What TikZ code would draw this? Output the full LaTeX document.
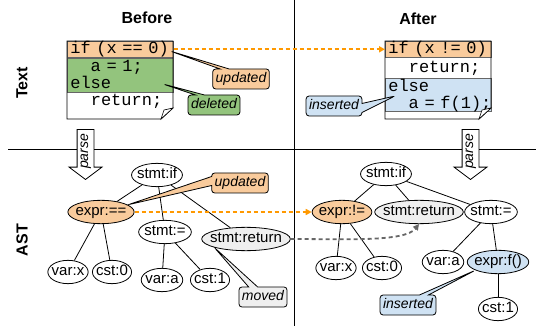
\documentclass[tikz,border=0pt]{standalone}
\usepackage{fontspec}
\setmainfont{Liberation Sans}
\newfontfamily\codefont{Liberation Mono}
\usetikzlibrary{shapes.geometric,shapes.callouts,shapes.arrows,arrows.meta}

\definecolor{updfill}{HTML}{F9CB9C}
\definecolor{delfill}{HTML}{93C47D}
\definecolor{insfill}{HTML}{CFE2F3}
\definecolor{movfill}{HTML}{EFEFEF}
\definecolor{mapline}{HTML}{FF9900}
\definecolor{movline}{HTML}{666666}

\tikzset{
  title/.style={font=\fontsize{16}{19}\selectfont\bfseries},
  rowlabel/.style={rotate=90, font=\fontsize{16}{19}\selectfont\bfseries},
  astnode/.style={ellipse, draw, inner xsep=-2pt, inner ysep=1.5pt, text height=10.5pt, text depth=3pt,
    font=\fontsize{15}{18}\selectfont},
  coderow/.style={anchor=north west, text width=100pt, inner xsep=3pt, inner ysep=0pt, align=left,
    font=\codefont\fontsize{17}{17}\selectfont},
  band/.style={coderow, draw=black!60, line width=0.6pt},
  note/.style={rectangle callout, draw, rounded corners=3pt, inner xsep=3pt, inner ysep=3.5pt,
    text height=10pt, text depth=3pt, font=\fontsize{14}{16}\selectfont\itshape, callout pointer width=9pt},
  parsearrow/.style={single arrow, draw, fill=white, rotate=90, shape border rotate=180, anchor=tip,
    minimum height=50pt, inner xsep=2pt, inner ysep=2.5pt, text height=8pt, text depth=3pt,
    single arrow head extend=8pt, single arrow tip angle=106, font=\fontsize{14}{16}\selectfont\itshape},
  mapping/.style={mapline, line width=1.8pt, dash pattern=on 4pt off 3pt, -{Triangle[length=6pt,width=6pt]}},
  moving/.style={movline, line width=1.8pt, dash pattern=on 4pt off 3pt, -{Triangle[length=6pt,width=6pt]}}
}

\begin{document}
\begin{tikzpicture}[x=1pt, y=-1pt, line width=0.8pt]
  \useasboundingbox (0,0) rectangle (536,326);

  % quadrant rules
  \draw (8,149) -- (536,149);
  \draw (294,0) -- (294,326);

  \node[title] (hbefore) at (147,18) {Before};
  \node[title] (hafter) at (418,19) {After};
  \node[rowlabel] (ltext) at (22,83) {Text};
  \node[rowlabel] (last) at (22,240) {AST};

  % source before
  \node[band, fill=updfill, minimum height=16pt] (b1) at (67,41) {if~(x~==~0)};
  \node[band, fill=delfill, minimum height=34pt] (b2) at (b1.south west) {\phantom{xx}a~=~1;\\else};
  \node[coderow, minimum height=17pt] (b3) at (b2.south west) {\phantom{xx}return;};
  \draw (67,41) -- (173,41) -- (173,108) -- (161,119) -- (67,119) -- cycle;
  \draw[fill=white, line width=0.6pt] (173,108) -- (164,110) -- (161,119) -- cycle;

  % source after
  \node[band, fill=updfill, minimum height=16pt] (a1) at (385,41) {if~(x~!=~0)};
  \node[coderow, minimum height=20pt] (a2) at (a1.south west) {\phantom{xx}return;};
  \node[band, fill=insfill, minimum height=31pt] (a3) at (a2.south west) {else\\\phantom{xx}a~=~f(1);};
  \draw (385,41) -- (491,41) -- (491,108) -- (479,119) -- (385,119) -- cycle;
  \draw[fill=white, line width=0.6pt] (491,108) -- (482,110) -- (479,119) -- cycle;

  \draw[mapping] (b1.east) -- (a1.west);

  \node[note, fill=updfill, callout absolute pointer={(170,51)}] (nupd1) at (241,79) {updated};
  \node[note, fill=delfill, callout absolute pointer={(163,84)}] (ndel) at (214,105) {deleted};
  \node[note, fill=insfill, callout absolute pointer={(395,96)}] (nins1) at (334,106) {inserted};

  % parse steps
  \node[parsearrow] (pbefore) at (85.5,180) {parse};
  \node[parsearrow] (pafter) at (470.5,180) {parse};

  % tree before
  \node[astnode] (bif) at (157,175) {stmt:if};
  \node[astnode, fill=updfill] (beq) at (101,212) {expr:==};
  \node[astnode] (basg) at (165,232) {stmt:=};
  \node[astnode, fill=movfill, inner xsep=-4.5pt] (bret) at (246,239) {stmt:return};
  \node[astnode] (bvx) at (68,272) {var:x};
  \node[astnode] (bc0) at (112,272) {cst:0};
  \node[astnode] (bva) at (162,280) {var:a};
  \node[astnode] (bc1) at (210,280) {cst:1};

  \draw (bif) -- (beq);
  \draw (bif) -- (basg);
  \draw (bif) -- (bret);
  \draw (beq) -- (bvx);
  \draw (beq) -- (bc0);
  \draw (basg) -- (bva);
  \draw (basg) -- (bc1);

  % tree after
  \node[astnode] (aif) at (386,174) {stmt:if};
  \node[astnode, fill=updfill] (aneq) at (342,212) {expr:!=};
  \node[astnode, fill=movfill, inner xsep=-4.5pt] (aret) at (419,212) {stmt:return};
  \node[astnode] (aasg) at (491,212) {stmt:=};
  \node[astnode] (avx) at (336,268) {var:x};
  \node[astnode] (ac0) at (382,268) {cst:0};
  \node[astnode] (ava) at (443,262) {var:a};
  \node[astnode, fill=insfill] (af) at (498,262) {expr:f()};
  \node[astnode] (ac1) at (498,309) {cst:1};

  \draw (aif) -- (aneq);
  \draw (aif) -- (aret);
  \draw (aif) -- (aasg);
  \draw (aneq) -- (avx);
  \draw (aneq) -- (ac0);
  \draw (aasg) -- (ava);
  \draw (aasg) -- (af);
  \draw (af) -- (ac1);

  \draw[mapping] (beq.east) -- (aneq.west);
  \draw[moving] (bret.east) .. controls +(55,0) and +(-14,18) .. (aret.south);

  \node[note, fill=updfill, callout absolute pointer={(beq.15)}] (nupd2) at (240,183) {updated};
  \node[note, fill=movfill, callout absolute pointer={(bret.south west)}] (nmov) at (263,297) {moved};
  \node[note, fill=insfill, callout absolute pointer={(af.-160)}] (nins2) at (408,305) {inserted};
\end{tikzpicture}
\end{document}
